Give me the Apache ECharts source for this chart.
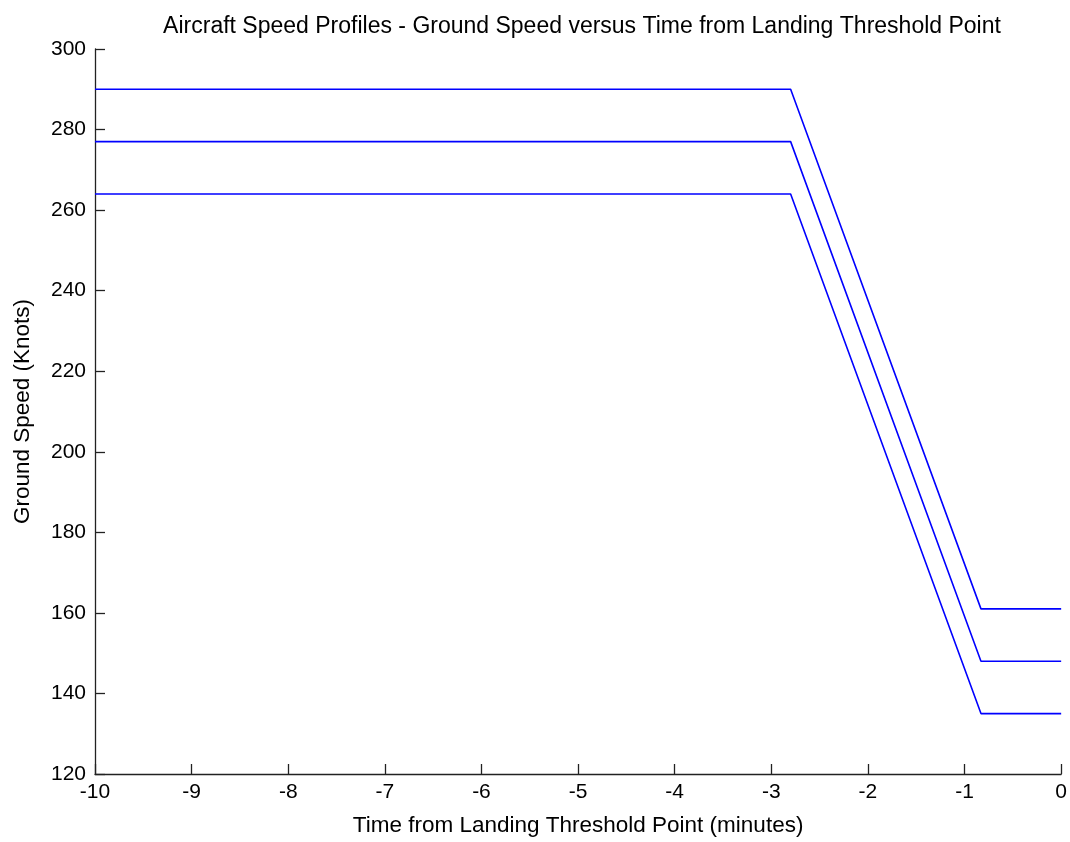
<!DOCTYPE html>
<html>
<head>
<meta charset="utf-8">
<script src="https://cdn.jsdelivr.net/npm/echarts@6/dist/echarts.min.js"></script>
<style>
html,body{margin:0;padding:0;background:#fff;}
#chart{width:1070px;height:842px;}
</style>
</head>
<body>
<div id="chart"></div>
<script>
const title = "Aircraft Speed Profiles - Ground Speed versus Time from Landing Threshold Point";
const xName = "Time from Landing Threshold Point (minutes)";
const yName = "Ground Speed (Knots)";
const timeHigh = [-10, -2.8, -0.83, 0];
const speedHigh = [290, 290, 161, 161];
const timeMid = [-10, -2.8, -0.83, 0];
const speedMid = [277, 277, 148, 148];
const timeLow = [-10, -2.8, -0.83, 0];
const speedLow = [264, 264, 135, 135];

function pairs(xs, ys){ return xs.map((x,i)=>[x, ys[i]]); }

const font = "Liberation Sans, Arial, sans-serif";
const chart = echarts.init(document.getElementById('chart'));
const lineSeries = (name, xs, ys) => ({
  name, type: 'line', data: pairs(xs, ys), showSymbol: false, symbol: 'none',
  lineStyle: {color: '#0000ff', width: 1.6}, itemStyle:{color:'#0000ff'}, animation: false
});
chart.setOption({
  backgroundColor: '#ffffff',
  animation: false,
  title: {
    text: title, left: 577, top: 10, textAlign: 'center',
    textStyle: {fontFamily: font, fontSize: 23, fontWeight: 'normal', color: '#000'}
  },
  grid: {left: 95, right: 8, top: 49, bottom: 66, containLabel: false},
  xAxis: {
    type: 'value', min: -10, max: 0, interval: 1,
    name: xName, nameLocation: 'middle', nameGap: 40,
    nameTextStyle: {fontFamily: font, fontSize: 22.5, color: '#000'},
    axisLine: {show: true, onZero: false, lineStyle: {color: '#222', width: 1.3}},
    axisTick: {show: true, inside: true, length: 10, lineStyle: {color: '#222', width: 1.3}},
    axisLabel: {fontFamily: font, fontSize: 21, color: '#000', margin: 8},
    splitLine: {show: false}
  },
  yAxis: {
    type: 'value', min: 120, max: 300, interval: 20,
    name: yName, nameLocation: 'middle', nameGap: 61, nameRotate: 90,
    nameTextStyle: {fontFamily: font, fontSize: 22.5, color: '#000'},
    axisLine: {show: true, onZero: false, lineStyle: {color: '#222', width: 1.3}},
    axisTick: {show: true, inside: true, length: 10, lineStyle: {color: '#222', width: 1.3}},
    axisLabel: {fontFamily: font, fontSize: 21, color: '#000', margin: 9},
    splitLine: {show: false}
  },
  series: [
    lineSeries('High', timeHigh, speedHigh),
    lineSeries('Mid', timeMid, speedMid),
    lineSeries('Low', timeLow, speedLow)
  ]
});
</script>
</body>
</html>
